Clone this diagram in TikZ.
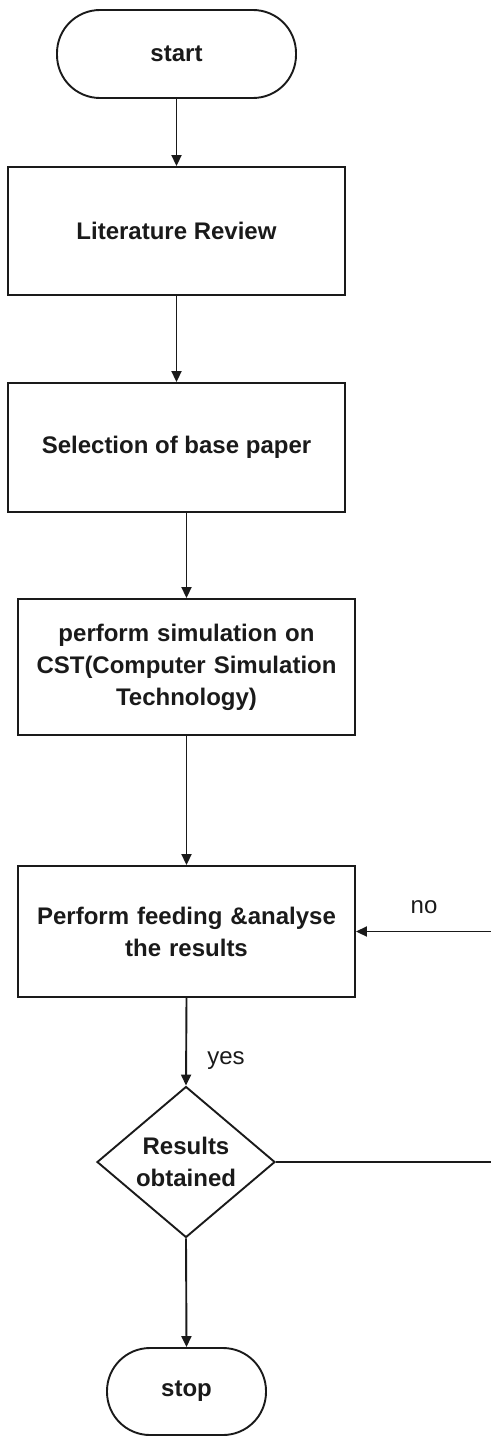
\documentclass[tikz,border=0pt]{standalone}
\usepackage{fontspec}
\setmainfont{Liberation Sans}
\usetikzlibrary{shapes.geometric,arrows.meta}
\definecolor{ink}{HTML}{1A1A1A}
\begin{document}
\begin{tikzpicture}[x=1pt,y=-1pt,
  every node/.style={font=\fontsize{24}{32}\selectfont\bfseries, text=ink},
  box/.style={draw=ink, line width=1.9pt, rectangle, minimum width=337pt, inner sep=0pt, align=center},
  term/.style={draw=ink, line width=1.9pt, rectangle, rounded corners=43pt, minimum height=88pt, inner sep=0pt},
  decision/.style={draw=ink, line width=1.9pt, diamond, aspect=1.18, minimum width=178pt, minimum height=151pt, inner sep=0pt, align=center},
  lbl/.style={font=\fontsize{24}{28}\selectfont\mdseries},
  arr/.style={draw=ink, line width=1.9pt, -{Triangle[length=11pt,width=10pt]}},
  conn/.style={draw=ink, line width=1.9pt}]
\useasboundingbox (0,0) rectangle (490,1437);
\node[term, minimum width=239pt] (start) at (176.5,54) {start};
\node[box, minimum height=128pt] (lit) at (176.5,231) {Literature Review};
\node[box, minimum height=129pt] (sel) at (176.5,447.5) {Selection of base paper};
\node[box, minimum height=136pt, text width=320pt] (sim) at (186.5,667) {perform simulation on\\CST(Computer Simulation\\Technology)};
\node[box, minimum height=131pt, text width=320pt] (feed) at (186.5,931.5) {Perform feeding \&analyse\\the results};
\node[decision] (dia) at (186,1162) {Results\\obtained};
\node[term, minimum width=159pt, minimum height=87pt] (stop) at (186.5,1391.5) {stop};
\coordinate (rc) at (491.5,1162);
\draw[arr] (start.south) -- (lit.north);
\draw[arr] (lit.south) -- (sel.north);
\draw[arr] (sel.south -| sim.north) -- (sim.north);
\draw[arr] (sim.south) -- (feed.north);
\draw[arr] (feed.south) -- (dia.north);
\draw[arr] (dia.south) -- (stop.north);
\draw[arr] (dia.east) -- (rc) |- (feed.east);
\node[lbl] (no) at (424,907) {no};
\node[lbl] (yes) at (226,1061) {yes};
\end{tikzpicture}
\end{document}
